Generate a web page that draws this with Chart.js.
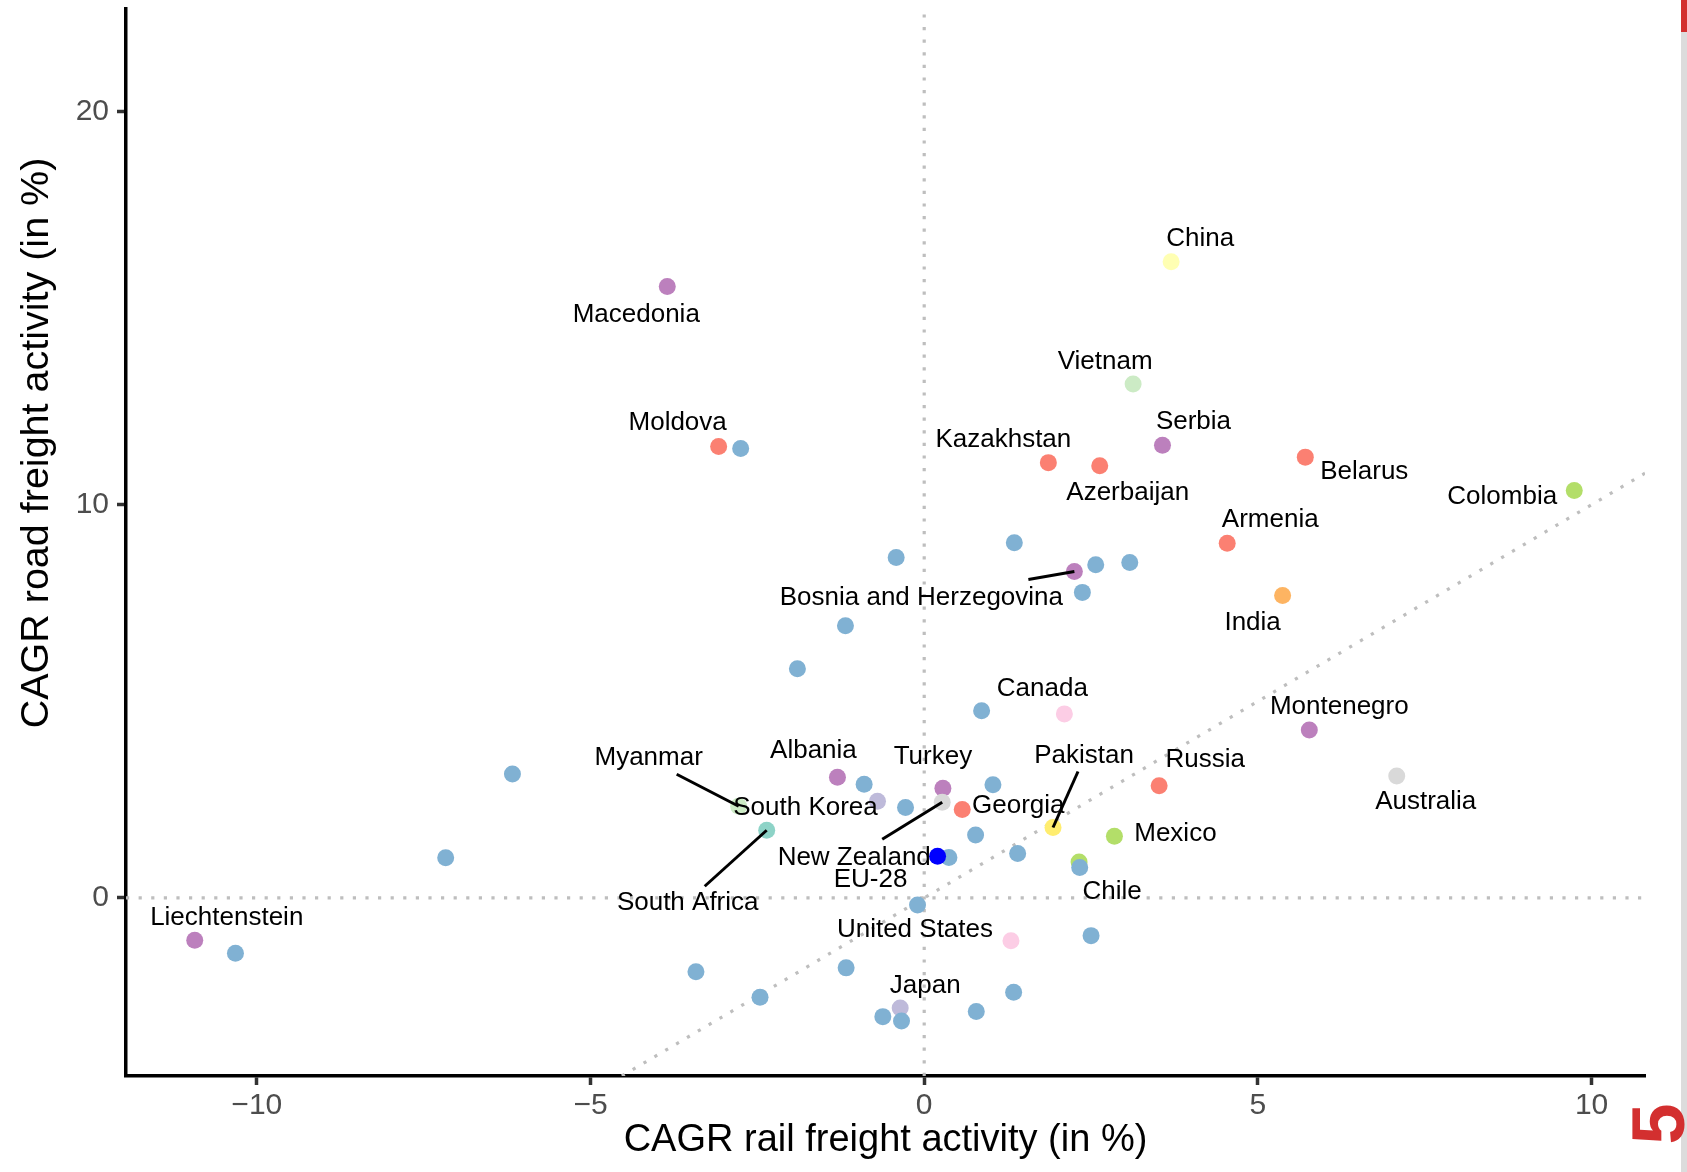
<!DOCTYPE html>
<html>
<head>
<meta charset="utf-8">
<script src="https://cdn.jsdelivr.net/npm/chart.js@4.4.1/dist/chart.umd.min.js"></script>
<style>
  html, body { margin: 0; padding: 0; background: #ffffff; }
  #wrap { width: 1687px; height: 1172px; }
</style>
</head>
<body>
<div id="wrap"><canvas id="freightChart" width="1687" height="1172"></canvas></div>
<script>
// Named countries (CAGR rail vs road freight activity, in %)
const countries = ['China', 'Macedonia', 'Vietnam', 'Moldova', 'Serbia', 'Kazakhstan', 'Azerbaijan',
    'Belarus', 'Colombia', 'Armenia', 'Bosnia and Herzegovina', 'India', 'Canada', 'Montenegro',
    'Australia', 'Russia', 'Pakistan', 'Albania', 'Turkey', 'Myanmar', 'South Korea', 'Georgia',
    'South Africa', 'New Zealand', 'Mexico', 'EU-28', 'Chile', 'Liechtenstein', 'United States', 'Japan'];
const railCagr = [3.70, -3.85, 3.13, -3.08, 3.57, 1.86, 2.63,
    5.71, 9.74, 4.54, 2.25, 5.37, 2.10, 5.77,
    7.08, 3.52, 1.93, -1.30, 0.28, -2.78, -0.70, 0.57,
    -2.36, 0.27, 2.85, 0.20, 2.32, -10.93, 1.30, -0.36];
const roadCagr = [16.18, 15.55, 13.07, 11.48, 11.51, 11.07, 10.99,
    11.21, 10.36, 9.02, 8.30, 7.69, 4.68, 4.27,
    3.10, 2.85, 1.79, 3.07, 2.79, 2.33, 2.46, 2.25,
    1.72, 2.43, 1.57, 1.06, 0.91, -1.08, -1.09, -2.80];
const regions = ['China', 'Europe', 'SE Asia', 'CIS', 'Europe', 'CIS', 'CIS',
    'CIS', 'Latin America', 'CIS', 'Europe', 'India', 'North America', 'Europe',
    'Oceania', 'CIS', 'Pakistan', 'Europe', 'Europe', 'SE Asia', 'East Asia', 'CIS',
    'Africa', 'Oceania', 'Latin America', 'EU-28', 'Latin America', 'Europe', 'North America', 'East Asia'];

// EU member states (unlabelled)
const euRail = [-2.75, 1.35, -0.42, 2.57, 3.08, 2.37, -1.18, -1.90, 0.86, -6.17, -0.90, 1.03, -0.28, 0.77,
    1.40, 0.37, 2.33, -7.17, -0.10, -10.32, 2.50, -3.42, -1.17, -2.46, 1.34, -0.62, -0.34, 0.78];
const euRoad = [11.43, 9.03, 8.66, 8.47, 8.53, 7.77, 6.92, 5.83, 4.76, 3.15, 2.89, 2.88, 2.30, 1.60,
    1.13, 1.03, 0.77, 1.02, -0.18, -1.41, -0.96, -1.88, -1.78, -2.53, -2.40, -3.02, -3.13, -2.89];

const xTicks = [-10, -5, 0, 5, 10];
const yTicks = [0, 10, 20];

// Colours
const regionColors = {
    'China': '#FFFFB3',
    'Europe': '#BC80BD',
    'SE Asia': '#CCEBC5',
    'CIS': '#FB8072',
    'Latin America': '#B3DE69',
    'India': '#FDB462',
    'North America': '#FCCDE5',
    'Oceania': '#D9D9D9',
    'Pakistan': '#FFED6F',
    'East Asia': '#BEBADA',
    'Africa': '#8DD3C7',
    'EU-28': '#0000FF'
};
const euColor = '#80B1D3';

// label placement: pixel offset from point to text centre, optional segment start
const labelOffsets = {
    'China': [29, -23], 'Macedonia': [-31, 28], 'Vietnam': [-28, -22], 'Moldova': [-41, -24],
    'Serbia': [31, -24], 'Kazakhstan': [-45, -23], 'Azerbaijan': [28, 27], 'Belarus': [59, 15],
    'Colombia': [-72, 6], 'Armenia': [43, -23], 'Bosnia and Herzegovina': [-153, 26], 'India': [-30, 27],
    'Canada': [-22, -25], 'Montenegro': [30, -23], 'Australia': [29, 26], 'Russia': [46, -26],
    'Pakistan': [31, -72], 'Albania': [-24, -26], 'Turkey': [-10, -31], 'Myanmar': [-90, -48],
    'South Korea': [-72, 7], 'Georgia': [56, -4], 'South Africa': [-79, 73], 'New Zealand': [-88, 55],
    'Mexico': [61, -2], 'EU-28': [-67, 24], 'Chile': [33, 30], 'Liechtenstein': [32, -23],
    'United States': [-96, -11], 'Japan': [25, -22]
};
const segmentStarts = {
    'Bosnia and Herzegovina': [-46, 8], 'Pakistan': [25, -56], 'Myanmar': [-62, -32],
    'South Africa': [-62, 56], 'New Zealand': [-60, 37]
};

const FONT = '"Liberation Sans", Arial, Helvetica, sans-serif';
const fmtTick = (v) => (v < 0 ? '\u2212' + Math.abs(v) : String(v));

const namedIdx = countries.map((c, i) => i).filter(i => regions[i] !== 'EU-28');
const aggIdx = countries.map((c, i) => i).filter(i => regions[i] === 'EU-28');

// dotted reference lines: x = 0, y = 0, y = x
const refLinesPlugin = {
    id: 'refLines',
    beforeDatasetsDraw(chart) {
        const { ctx, chartArea: a, scales: { x, y } } = chart;
        ctx.save();
        ctx.beginPath();
        ctx.rect(a.left, a.top, a.right - a.left, a.bottom - a.top);
        ctx.clip();
        ctx.strokeStyle = '#BEBEBE';
        ctx.lineWidth = 3.2;
        ctx.setLineDash([3.2, 9.4]);
        ctx.beginPath();
        ctx.moveTo(x.getPixelForValue(0), a.bottom);
        ctx.lineTo(x.getPixelForValue(0), a.top);
        ctx.moveTo(a.left, y.getPixelForValue(0));
        ctx.lineTo(a.right, y.getPixelForValue(0));
        const lo = Math.max(x.min, y.min), hi = Math.min(x.max, y.max);
        ctx.moveTo(x.getPixelForValue(lo), y.getPixelForValue(lo));
        ctx.lineTo(x.getPixelForValue(hi), y.getPixelForValue(hi));
        ctx.stroke();
        ctx.restore();
    }
};

// country labels with repel segments
const labelPlugin = {
    id: 'countryLabels',
    afterDatasetsDraw(chart) {
        const { ctx, scales: { x, y } } = chart;
        ctx.save();
        ctx.strokeStyle = '#000000';
        ctx.lineWidth = 3;
        countries.forEach((name, i) => {
            const seg = segmentStarts[name];
            if (!seg) return;
            const px = x.getPixelForValue(railCagr[i]);
            const py = y.getPixelForValue(roadCagr[i]);
            ctx.beginPath();
            ctx.moveTo(px + seg[0], py + seg[1]);
            ctx.lineTo(px, py);
            ctx.stroke();
        });
        ctx.fillStyle = '#000000';
        ctx.font = '26px ' + FONT;
        ctx.textAlign = 'center';
        ctx.textBaseline = 'middle';
        countries.forEach((name, i) => {
            const off = labelOffsets[name] || [0, -25];
            const px = x.getPixelForValue(railCagr[i]);
            const py = y.getPixelForValue(roadCagr[i]);
            ctx.fillText(name, px + off[0], py + off[1]);
        });
        ctx.restore();
    }
};

// axis titles and page decorations
const titlesPlugin = {
    id: 'axisTitles',
    afterDraw(chart) {
        const { ctx, chartArea: a } = chart;
        ctx.save();
        ctx.fillStyle = '#000000';
        ctx.textAlign = 'center';
        ctx.textBaseline = 'alphabetic';
        ctx.font = '38px ' + FONT;
        ctx.fillText('CAGR rail freight activity (in %)', (a.left + a.right) / 2, 1151);
        ctx.font = '39.5px ' + FONT;
        ctx.translate(48, 443);
        ctx.rotate(-Math.PI / 2);
        ctx.fillText('CAGR road freight activity (in %)', 0, 0);
        ctx.restore();

        ctx.save();
        ctx.fillStyle = '#DCDCDC';
        ctx.fillRect(1681, 32, 6, 1140);
        ctx.fillStyle = '#D32F2F';
        ctx.fillRect(1681, 0, 6, 32);
        ctx.font = 'bold 74px ' + FONT;
        ctx.textAlign = 'center';
        ctx.textBaseline = 'middle';
        ctx.translate(1664, 1124);
        ctx.rotate(-Math.PI / 2);
        ctx.fillText('5', 0, 0);
        ctx.restore();
    }
};

const noPad = (s) => { s.paddingTop = 0; s.paddingBottom = 0; s.paddingLeft = 0; s.paddingRight = 0; };

const ctx = document.getElementById('freightChart');
new Chart(ctx, {
    type: 'scatter',
    data: {
        datasets: [
            {
                label: 'Countries',
                data: namedIdx.map(i => ({ x: railCagr[i], y: roadCagr[i] })),
                pointBackgroundColor: namedIdx.map(i => regionColors[regions[i]]),
                pointBorderWidth: 0,
                pointRadius: 8.5,
                order: 3
            },
            {
                label: 'EU member states',
                data: euRail.map((v, i) => ({ x: v, y: euRoad[i] })),
                pointBackgroundColor: euColor,
                pointBorderWidth: 0,
                pointRadius: 8.5,
                order: 2
            },
            {
                label: 'EU-28',
                data: aggIdx.map(i => ({ x: railCagr[i], y: roadCagr[i] })),
                pointBackgroundColor: aggIdx.map(i => regionColors[regions[i]]),
                pointBorderWidth: 0,
                pointRadius: 8.5,
                order: 1
            }
        ]
    },
    options: {
        responsive: false,
        animation: false,
        layout: {
            padding: { top: 7, right: 42, left: 0, bottom: 0 }
        },
        plugins: {
            legend: { display: false },
            tooltip: { enabled: false }
        },
        scales: {
            x: {
                type: 'linear',
                min: -11.96,
                max: 10.80,
                afterBuildTicks: (s) => { s.ticks = xTicks.map(v => ({ value: v })); },
                afterFit: (s) => { s.height = 96; noPad(s); },
                grid: {
                    drawOnChartArea: false,
                    drawTicks: true,
                    tickLength: 9,
                    tickColor: '#333333',
                    tickWidth: 3.5
                },
                border: { display: true, color: '#000000', width: 3.5 },
                ticks: {
                    color: '#4D4D4D',
                    padding: 3,
                    font: { family: FONT, size: 30 },
                    callback: (v) => fmtTick(v)
                }
            },
            y: {
                type: 'linear',
                min: -4.53,
                max: 22.62,
                afterBuildTicks: (s) => { s.ticks = yTicks.map(v => ({ value: v })); },
                afterFit: (s) => { s.width = 126; noPad(s); },
                grid: {
                    drawOnChartArea: false,
                    drawTicks: true,
                    tickLength: 9,
                    tickColor: '#333333',
                    tickWidth: 3.5
                },
                border: { display: true, color: '#000000', width: 3.5 },
                ticks: {
                    color: '#4D4D4D',
                    padding: 8,
                    font: { family: FONT, size: 30 },
                    callback: (v) => fmtTick(v)
                }
            }
        }
    },
    plugins: [refLinesPlugin, labelPlugin, titlesPlugin]
});
</script>
</body>
</html>
